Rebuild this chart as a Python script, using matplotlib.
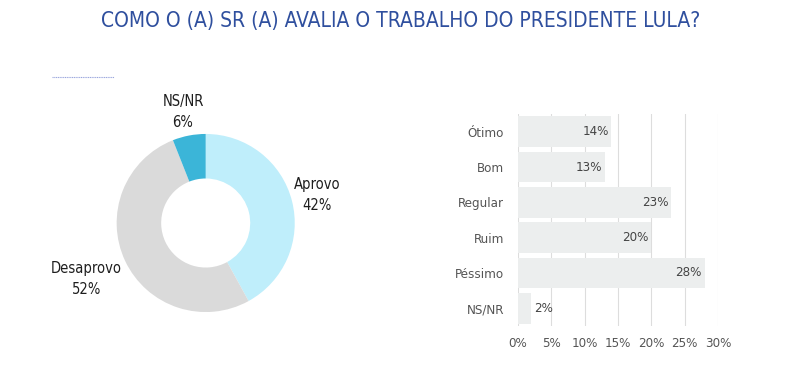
import matplotlib
matplotlib.use("Agg")
from matplotlib import pyplot as plt
from matplotlib.ticker import MultipleLocator, FuncFormatter
import numpy as np

plt.rcParams["font.family"] = ["DejaVu Sans"]
plt.rcParams["font.stretch"] = "condensed"

TITLE = "COMO O (A) SR (A) AVALIA O TRABALHO DO PRESIDENTE LULA?"

pie_labels = ["Aprovo", "Desaprovo", "NS/NR"]
pie_values = [42, 52, 6]
pie_colors = ["#bfeefb", "#dadada", "#3bb5d8"]

bar_labels = ["Ótimo", "Bom", "Regular", "Ruim", "Péssimo", "NS/NR"]
bar_values = [14, 13, 23, 20, 28, 2]

TEXT = "#1e1e1e"

fig = plt.figure(figsize=(8, 3.65), dpi=100)
fig.text(0.501, 0.942, TITLE, ha="center", va="center", fontsize=15, color="#2f4f9e")
fig.add_artist(plt.Line2D([52/800, 114/800], [1-77/365, 1-77/365], color="#9aa6dd",
                          lw=0.8, ls=(0, (1, 0.6))))

# donut
ax1 = fig.add_axes([(205.7-130)/800, 1-(223+130)/365, 260/800, 260/365])
ax1.pie(pie_values, colors=pie_colors, startangle=90, counterclock=False,
        radius=1, wedgeprops=dict(width=0.5, edgecolor="none"))
ax1.set_xlim(-1.46, 1.46)
ax1.set_ylim(-1.46, 1.46)
ax1.set_aspect("equal")
ax1.axis("off")
label_pos = [(1.25, 0.31), (-1.34, -0.63), (-0.255, 1.25)]
for lab, v, (x, y) in zip(pie_labels, pie_values, label_pos):
    ax1.text(x, y, f"{lab}\n{v}%", ha="center", va="center", fontsize=10.5,
             color=TEXT, linespacing=1.5)

# bars
ax2 = fig.add_axes([518/800, 1-326/365, 200/800, 212/365])
y = np.arange(len(bar_labels))
ax2.barh(y, bar_values, height=0.87, color="#eceeee", zorder=2)
ax2.set_xlim(0, 30)
ax2.set_ylim(len(bar_labels)-0.5, -0.5)
ax2.set_yticks(y)
ax2.set_yticklabels(bar_labels)
ax2.xaxis.set_major_locator(MultipleLocator(5))
ax2.xaxis.set_major_formatter(FuncFormatter(lambda v, p: f"{v:.0f}%"))
ax2.grid(True, axis="x", color="#dddddd", lw=0.8, zorder=0)
ax2.set_axisbelow(True)
for s in ax2.spines.values():
    s.set_visible(False)
ax2.tick_params(length=0, labelsize=9.5, labelcolor="#555555", pad=10)
ax2.tick_params(axis="x", pad=8)
for yi, v in zip(y, bar_values):
    if v > 5:
        ax2.text(v - 0.4, yi, f"{v}%", ha="right", va="center", fontsize=9.5, color="#444444", zorder=3)
    else:
        ax2.text(v + 0.4, yi, f"{v}%", ha="left", va="center", fontsize=9.5, color="#444444", zorder=3)

fig.savefig("out.png", dpi=100, facecolor="white")
